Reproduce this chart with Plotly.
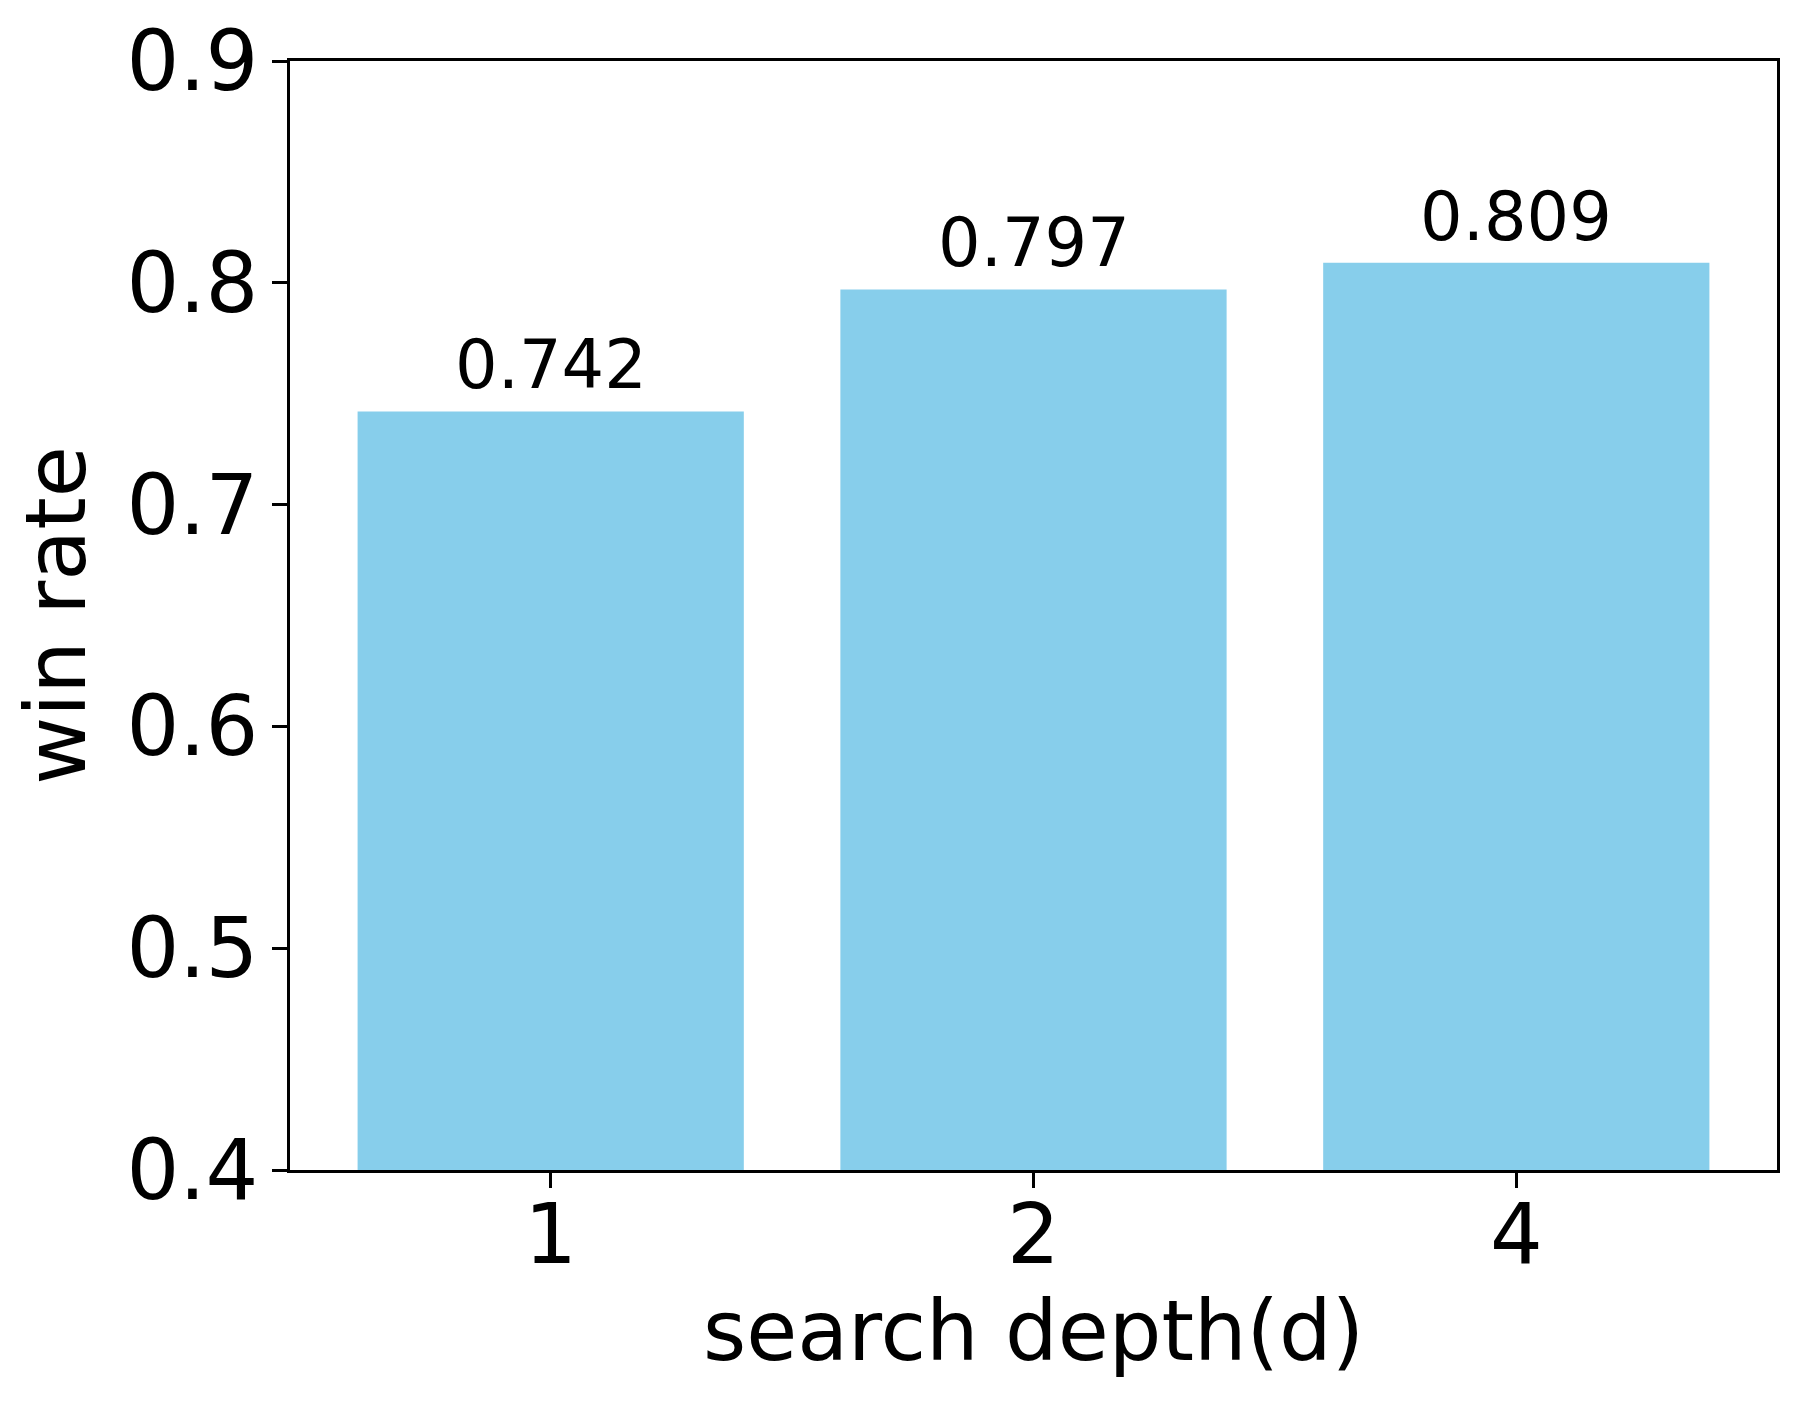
import plotly.graph_objects as go

depths = ["1", "2", "4"]
win_rates = [0.742, 0.797, 0.809]
y_ticks = [0.4, 0.5, 0.6, 0.7, 0.8, 0.9]

font = "DejaVu Sans"

fig = go.Figure()
fig.add_trace(go.Bar(
    x=depths, y=win_rates,
    width=0.8,
    marker=dict(color="#87CEEB", line=dict(width=0)),
    showlegend=False,
))

# value labels above each bar (category index as x position)
for i, v in enumerate(win_rates):
    fig.add_annotation(
        x=i, y=v, text=f"{v:.3f}",
        showarrow=False, yanchor="bottom", yshift=5,
        font=dict(family=font, size=67, color="black"),
    )

# page body adds an 8px offset, margins compensate for it
fig.update_layout(
    width=1807, height=1408,
    margin=dict(l=282, r=38, t=53, b=246),
    plot_bgcolor="white", paper_bgcolor="white",
    font=dict(family=font, color="black"),
)

fig.update_xaxes(
    type="category", range=[-0.54, 2.54], automargin=False,
    showline=True, linecolor="black", linewidth=3, mirror=True,
    ticks="outside", ticklen=15, tickwidth=3, tickcolor="black",
    tickfont=dict(family=font, size=83), ticklabelstandoff=-25,
    title=dict(text="search depth(d)", font=dict(family=font, size=83), standoff=17),
    showgrid=False, zeroline=False,
)
fig.update_yaxes(
    range=[0.4, 0.9], tickvals=y_ticks, tickformat=".1f", automargin=False,
    showline=True, linecolor="black", linewidth=3, mirror=True,
    ticks="outside", ticklen=15, tickwidth=3, tickcolor="black",
    tickfont=dict(family=font, size=83), ticklabelstandoff=-3,
    title=dict(text="win rate", font=dict(family=font, size=83), standoff=19),
    showgrid=False, zeroline=False,
)

fig.write_html("out.html")
